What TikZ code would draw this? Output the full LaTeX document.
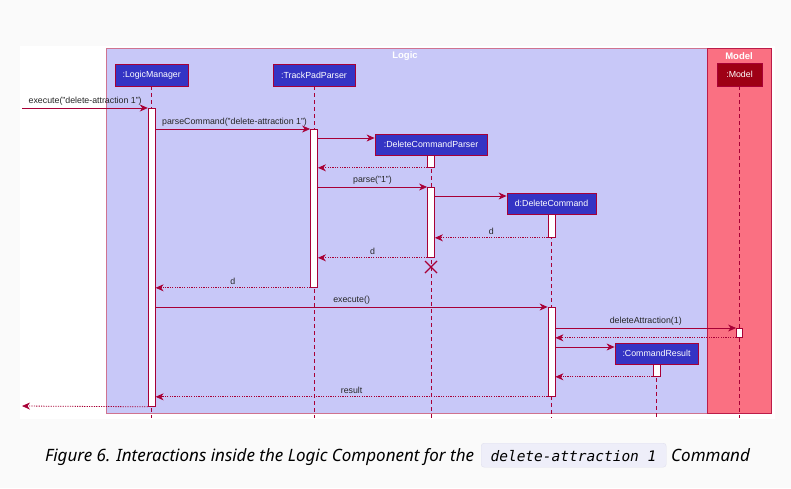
\documentclass[tikz,border=0pt]{standalone}
\usepackage{fontspec}
\setmainfont{Liberation Sans}
\newfontfamily\capfont{Noto Sans}
\newfontfamily\codefont{DejaVu Sans Mono}
\usetikzlibrary{arrows.meta}
\definecolor{pred}{HTML}{A80036}
\definecolor{logicfill}{HTML}{C8C8F8}
\definecolor{modelfill}{HTML}{FA7082}
\definecolor{pblue}{HTML}{3434C4}
\definecolor{pdred}{HTML}{9E0015}
\definecolor{txt}{HTML}{262626}
\definecolor{codebg}{HTML}{EEEEF9}
\definecolor{codeborder}{HTML}{E0E0EE}
\definecolor{pagebg}{HTML}{FAFAFA}
\tikzset{
  part/.style={draw=pred, line width=0.8pt, fill=pblue, text=white, font=\fontsize{8.8}{10}\selectfont, inner sep=0pt, minimum height=22pt},
  mpart/.style={part, fill=pdred},
  act/.style={draw=pred, line width=0.8pt, fill=white, minimum width=7pt, inner sep=0pt},
  life/.style={draw=pred, line width=0.7pt, dash pattern=on 4pt off 3pt},
  msg/.style={draw=pred, line width=0.8pt, -{Stealth[length=8pt,width=7pt,inset=2.5pt]}},
  ret/.style={msg, dash pattern=on 1.2pt off 1.2pt},
  lbl/.style={text=txt, font=\fontsize{8.8}{10}\selectfont, inner sep=0pt},
  grptitle/.style={text=white, font=\fontsize{9.5}{10}\bfseries\selectfont, inner sep=0pt},
  captxt/.style={anchor=base west, inner sep=0pt, text=black, font=\capfont\fontsize{17}{19}\selectfont\itshape},
}
\begin{document}
\begin{tikzpicture}[x=1pt,y=-1pt]
\useasboundingbox (0,0) rectangle (791,488);
\fill[pagebg] (0,0) rectangle (791,488);
\fill[white] (20,46) rectangle (775,419);

% groups
\node[draw=pred!55!white, line width=0.9pt, fill=logicfill, minimum width=601pt, minimum height=365pt, inner sep=0pt, anchor=north west] (logic) at (106,48) {};
\node[draw=pred!75!modelfill, line width=0.9pt, fill=modelfill, minimum width=64pt, minimum height=365pt, inner sep=0pt, anchor=north west] (model) at (707,48) {};
\node[grptitle] (logicT) at (405,56) {Logic};
\node[grptitle] (modelT) at (739,56) {Model};

% participants
\node[part, minimum width=73pt] (lm) at (151.7,75) {:LogicManager};
\node[part, minimum width=82pt] (tp) at (314,75) {:TrackPadParser};
\node[part, minimum width=112pt, minimum height=21pt] (dcp) at (431,144.5) {:DeleteCommandParser};
\node[part, minimum width=89pt, minimum height=21pt] (dc) at (551.5,203.5) {d:DeleteCommand};
\node[part, minimum width=83pt, minimum height=21pt] (cr) at (656.5,353.5) {:CommandResult};
\node[mpart, minimum width=45pt, minimum height=23pt] (mo) at (739.5,74.5) {:Model};

% lifeline ends
\coordinate (lmE) at (151.7,418);
\coordinate (tpE) at (314,418);
\coordinate (dcpE) at (431,418);
\coordinate (dcE) at (551.5,418);
\coordinate (crE) at (656.5,418);
\coordinate (moE) at (739.5,418);
\draw[life] (lm.south) -- (lmE);
\draw[life] (tp.south) -- (tpE);
\draw[life] (dcp.south) -- (dcpE);
\draw[life] (dc.south) -- (dcE);
\draw[life] (cr.south) -- (crE);
\draw[life] (mo.south) -- (moE);

% activations
\node[act, minimum height=298pt, anchor=north] (aLM) at (151.7,108) {};
\node[act, minimum height=158pt, anchor=north] (aTP) at (314,129) {};
\node[act, minimum height=12pt, anchor=north] (aDCP1) at (431,155) {};
\node[act, minimum height=70pt, anchor=north] (aDCP2) at (431,187) {};
\node[act, minimum height=23pt, anchor=north] (aDC1) at (551.5,214) {};
\node[act, minimum height=89pt, anchor=north] (aDC2) at (551.5,307) {};
\node[act, minimum width=6pt, minimum height=9pt, anchor=north] (aMo) at (739.5,328) {};
\node[act, minimum height=12pt, anchor=north] (aCR) at (656.5,364) {};

% messages
\coordinate (ext) at (22,108);
\coordinate (extR) at (22,406);
\draw[msg] (ext) -- (aLM.north west) node[lbl, pos=0.05, anchor=south west, yshift=2pt] (l1) {execute("delete-attraction 1")};
\draw[msg] (aLM.east |- 0,129) -- (aTP.north west) node[lbl, pos=0.04, anchor=south west, yshift=2pt] (l2) {parseCommand("delete-attraction 1")};
\draw[msg] (aTP.east |- 0,138) -- (dcp.west |- 0,138);
\draw[ret] (aDCP1.south west) -- (aTP.east |- aDCP1.south);
\draw[msg] (aTP.east |- aDCP2.north) -- (aDCP2.north west) node[lbl, midway, anchor=south, yshift=2pt] (l5) {parse("1")};
\draw[msg] (aDCP2.east |- 0,196) -- (dc.west |- 0,196);
\draw[ret] (aDC1.south west) -- (aDCP2.east |- aDC1.south) node[lbl, midway, anchor=south, yshift=2.5pt] (l7) {d};
\draw[ret] (aDCP2.south west) -- (aTP.east |- aDCP2.south) node[lbl, midway, anchor=south, yshift=2.5pt] (l8) {d};
\draw[ret] (aTP.south west) -- (aLM.east |- aTP.south) node[lbl, pos=0.5, anchor=south, yshift=2.5pt] (l9) {d};
\draw[msg] (aLM.east |- aDC2.north) -- (aDC2.north west) node[lbl, midway, anchor=south, yshift=2.5pt] (l10) {execute()};
\draw[msg] (aDC2.east |- aMo.north) -- (aMo.north west) node[lbl, midway, anchor=south, yshift=2.5pt] (l11) {deleteAttraction(1)};
\draw[ret] (aMo.south west) -- (aDC2.east |- aMo.south);
\draw[msg] (aDC2.east |- 0,347) -- (cr.west |- 0,347);
\draw[ret] (aCR.south west) -- (aDC2.east |- aCR.south);
\draw[ret] (aDC2.south west) -- (aLM.east |- aDC2.south) node[lbl, midway, anchor=south, yshift=2.5pt] (l15) {result};
\draw[ret] (aLM.south west) -- (extR);

% destroy
\draw[pred, line width=1.2pt] (425,261) -- (437,273) (425,273) -- (437,261);

% caption
\node[captxt] (cap1) at (45,461) {Figure 6. Interactions inside the Logic Component for the};
\node[draw=codeborder, fill=codebg, rounded corners=3pt, minimum width=185pt, minimum height=24pt, inner sep=0pt, anchor=north west] (codebox) at (481,443) {};
\node[anchor=base, inner sep=0pt, text=black] (code) at (573.5,461) {\codefont\fontsize{14.5}{16}\selectfont\itshape delete-attraction 1};
\node[captxt] (cap2) at (671,461) {Command};
\end{tikzpicture}
\end{document}
